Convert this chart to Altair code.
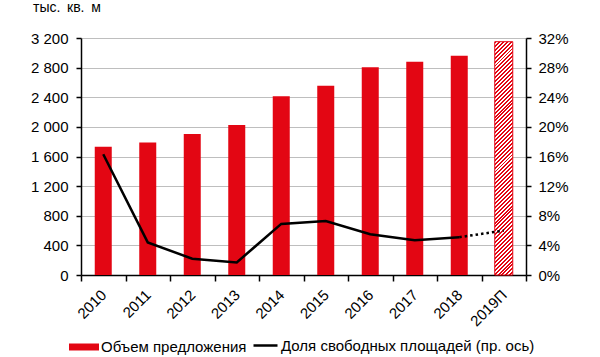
import altair as alt
import pandas as pd

years = ["2010", "2011", "2012", "2013", "2014", "2015", "2016", "2017", "2018", "2019П"]
supply = [1730, 1790, 1905, 2025, 2415, 2555, 2805, 2880, 2960, 3150]
vacancy = [16.3, 4.4, 2.2, 1.7, 6.9, 7.3, 5.5, 4.7, 5.1, 6.0]
forecast = [False] * 9 + [True]
left_ticks = [0, 400, 800, 1200, 1600, 2000, 2400, 2800, 3200]
right_ticks = [0, 4, 8, 12, 16, 20, 24, 28, 32]
bar_label = "Объем предложения"
line_label = "Доля свободных площадей (пр. ось)"

RED = "#E30613"
FONT = "Liberation Sans"

df = pd.DataFrame({"year": years, "supply": supply, "vacancy": vacancy, "fc": forecast})
df["s1"] = bar_label
df["s2"] = line_label
df_bar = df[~df["fc"]]
df_fc = df[df["fc"]]
df_line = df.iloc[:9]
df_dot = df.iloc[8:10]

# diagonal hatch pattern via hard-stop linear gradient
W, H = 18.0, 3150 / 3200 * 237
s = ((W + H) / H) / (1 + (W / H) ** 2)
N = 64
stops = []
for i in range(N):
    a, b, c = i / N, (i + 0.5) / N, (i + 1) / N
    stops += [{"offset": a, "color": RED}, {"offset": b, "color": RED},
              {"offset": b, "color": "white"}, {"offset": c, "color": "white"}]
hatch = {"gradient": "linear", "x1": 0, "y1": 0, "x2": s * W / H, "y2": s, "stops": stops}

x_enc = alt.X(
    "year:N", sort=years, title=None,
    scale=alt.Scale(domain=years, paddingInner=0, paddingOuter=0),
    axis=alt.Axis(labelAngle=-45, labelAlign="right", labelBaseline="middle",
                  tickBand="extent", tickSize=6, labelPadding=11, domainColor="black",
                  tickColor="black", labelFontSize=15, grid=False, domainWidth=1.5, tickWidth=1.5),
)

y_left = alt.Y(
    "supply:Q", title=None, scale=alt.Scale(domain=[0, 3200], nice=False),
    axis=alt.Axis(orient="left", values=left_ticks, grid=True, gridColor="#BEBEBE",
                  labelExpr="replace(format(datum.value, ','), ',', ' ')",
                  tickSize=5, labelPadding=8, domainColor="black", tickColor="black",
                  labelFontSize=15, domainWidth=1.5, tickWidth=1.5),
)

bars = alt.Chart(df_bar).mark_bar(size=17).encode(
    x=x_enc, y=y_left,
    fill=alt.Fill("s1:N", scale=alt.Scale(domain=[bar_label], range=[RED]),
                  legend=alt.Legend(orient="none", legendX=-12, legendY=294, title=None,
                                    symbolType="M-1,-0.233H1V0.233H-1Z", symbolSize=900,
                                    symbolStrokeWidth=0, labelFontSize=15, labelOffset=2,
                                    padding=0, labelFont=FONT, labelColor="black",
                                    labelLimit=400)),
)
fc_bar = alt.Chart(df_fc).mark_bar(size=W, fill=hatch, stroke=RED, strokeWidth=1).encode(
    x=x_enc, y=y_left
)

y_right = alt.Y(
    "vacancy:Q", title=None, scale=alt.Scale(domain=[0, 32], nice=False),
    axis=alt.Axis(orient="right", values=right_ticks, grid=False,
                  labelExpr="datum.value + '%'", tickSize=5, labelPadding=7,
                  domainColor="black", tickColor="black", labelFontSize=15,
                  domainWidth=1.5, tickWidth=1.5),
)

line = alt.Chart(df_line).mark_line(strokeWidth=2.5).encode(
    x=x_enc, y=y_right,
    stroke=alt.Stroke("s2:N", scale=alt.Scale(domain=[line_label], range=["black"]),
                      legend=alt.Legend(orient="none", legendX=171, legendY=294, title=None,
                                        symbolType="stroke", symbolSize=576,
                                        symbolStrokeWidth=2.5, labelFontSize=15,
                                        labelOffset=2, padding=0, labelFont=FONT,
                                        labelColor="black", labelLimit=400)),
)
dot = alt.Chart(df_dot).mark_line(strokeWidth=2.5, strokeDash=[2.5, 3], color="black").encode(
    x=x_enc, y=y_right
)

chart = alt.layer(
    alt.layer(bars, fc_bar),
    alt.layer(line, dot),
).resolve_scale(y="independent").properties(
    width=445, height=237,
    autosize=alt.AutoSizeParams(type="none"),
    padding={"left": 81, "top": 38, "right": 74, "bottom": 82},
    title=alt.TitleParams(text="тыс. \u2009кв. \u2009м", anchor="start", frame="group", dx=-48,
                          fontSize=14, fontWeight="normal", font=FONT, color="black",
                          baseline="alphabetic", offset=5),
).configure_view(stroke=None).configure_axis(
    labelFont=FONT, labelColor="black"
)

chart.save("out.html", embed_options={"renderer": "svg", "actions": False})
